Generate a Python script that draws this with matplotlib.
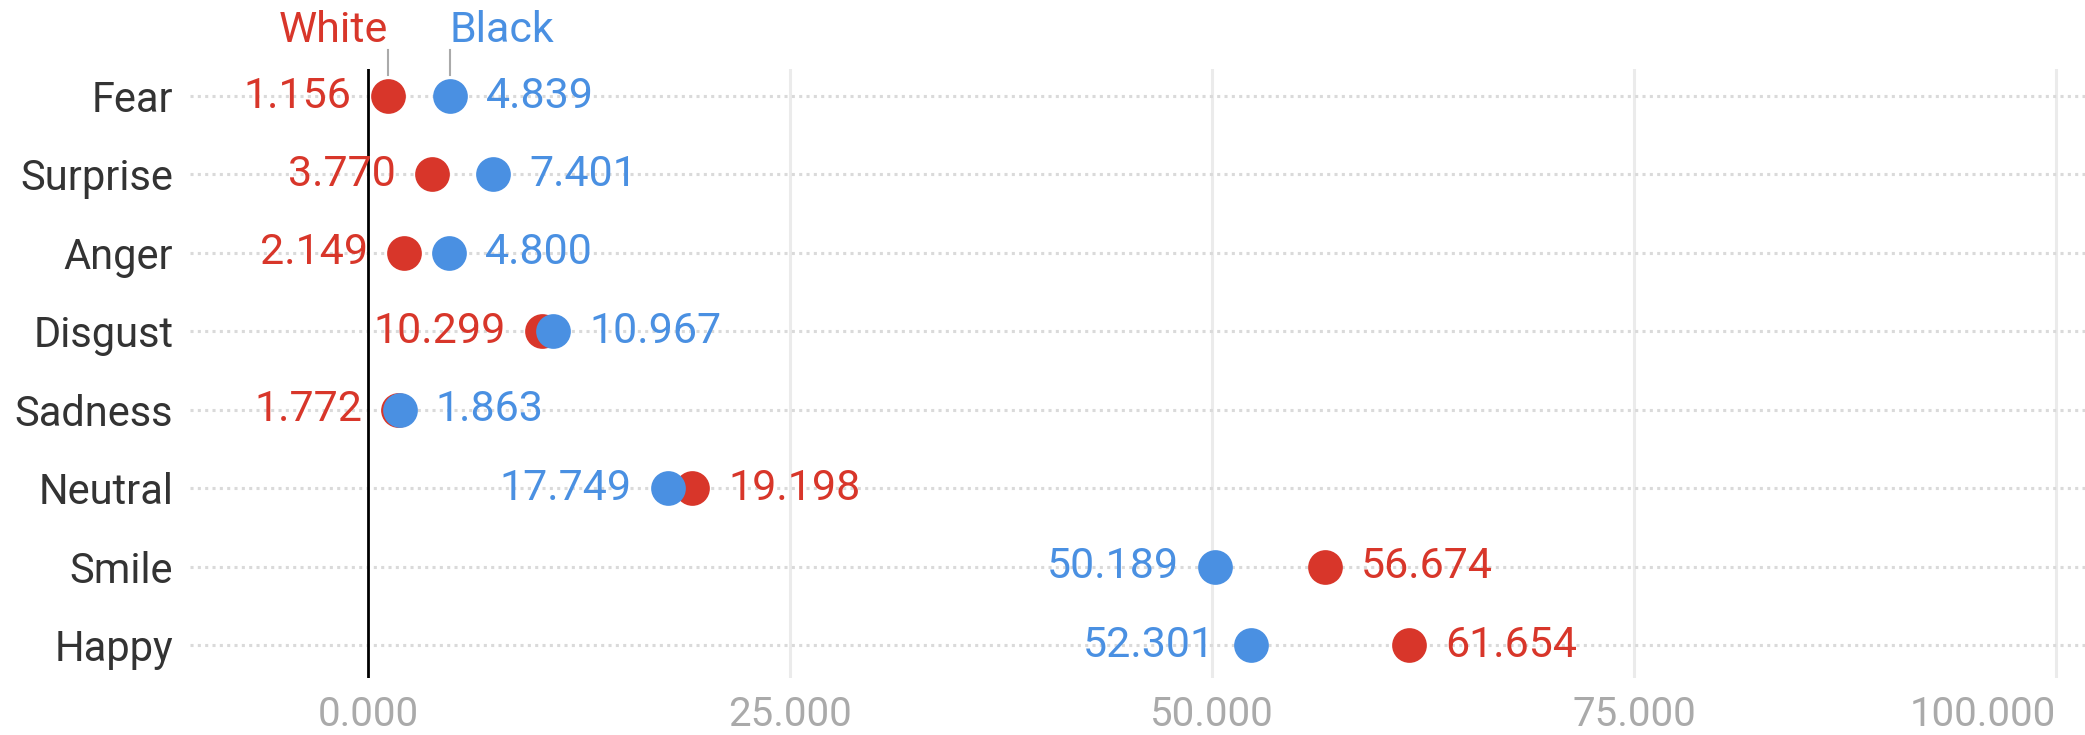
import matplotlib
matplotlib.use("Agg")
import matplotlib.pyplot as plt
import matplotlib.transforms as mtransforms

plt.rcParams['font.family'] = ['Roboto', 'DejaVu Sans']

# values in thousands (labels read 1.156 etc.)
categories = ["Fear", "Surprise", "Anger", "Disgust", "Sadness", "Neutral", "Smile", "Happy"]
white = [1.156, 3.770, 2.149, 10.299, 1.772, 19.198, 56.674, 61.654]
black = [4.839, 7.401, 4.800, 10.967, 1.863, 17.749, 50.189, 52.301]
xticks = [0, 25, 50, 75, 100]

red = "#D8362A"
blue = "#4A90E2"

fig = plt.figure(figsize=(20.85, 7.35), dpi=100)
ax = fig.add_axes([190 / 2085, 1 - 678 / 735, 1 - 190 / 2085, 609 / 735])

ax.set_xlim(-10.56, 101.72)
ax.set_ylim(7.42, -0.345)

for s in ax.spines.values():
    s.set_visible(False)

# vertical grid + zero line
for t in xticks[1:]:
    ax.axvline(t, color="#EBEBEB", lw=2.2, zorder=0)
ax.axvline(0, color="black", lw=2, zorder=1)

# dotted row lines
ypos = list(range(len(categories)))
for y in ypos:
    ax.axhline(y, color="#DADADA", lw=2.2, linestyle=(0, (1, 1.4)), zorder=0)

ax.plot(white, ypos, "o", color=red, ms=25, mec="none", zorder=3, clip_on=False)
ax.plot(black, ypos, "o", color=blue, ms=25, mec="none", zorder=4, clip_on=False)

# value labels: smaller value to the left, larger to the right
for y, w, b in zip(ypos, white, black):
    for v, c in ((w, red), (b, blue)):
        other = b if c == red else w
        if v <= other:
            ax.annotate(f"{v:.3f}", (v, y), xytext=(-26, 0), textcoords="offset points",
                        ha="right", va="center", color=c, fontsize=31, zorder=5)
        else:
            ax.annotate(f"{v:.3f}", (v, y), xytext=(26, 0), textcoords="offset points",
                        ha="left", va="center", color=c, fontsize=31, zorder=5)

# series labels over first row
trans = mtransforms.blended_transform_factory(ax.transData, ax.transAxes)
for v, name, c, ha in ((white[0], "White", red, "right"), (black[0], "Black", blue, "left")):
    ax.plot([v, v], [0.990, 1.031], color="#AAAAAA", lw=1.5, transform=trans, clip_on=False)
    ax.text(v, 1.044, name, color=c, fontsize=31, ha=ha, va="baseline", transform=trans)

ax.set_yticks(ypos)
ax.set_yticklabels(categories, fontsize=30, color="#333333")
ax.set_xticks(xticks)
ax.set_xticklabels([f"{t:.3f}" for t in xticks], fontsize=29, color="#AAAAAA")
ax.get_xticklabels()[-1].set_horizontalalignment("right")
ax.tick_params(axis="y", length=0, pad=12)
ax.tick_params(axis="x", length=0, pad=12)

fig.savefig("out.png", dpi=100)
